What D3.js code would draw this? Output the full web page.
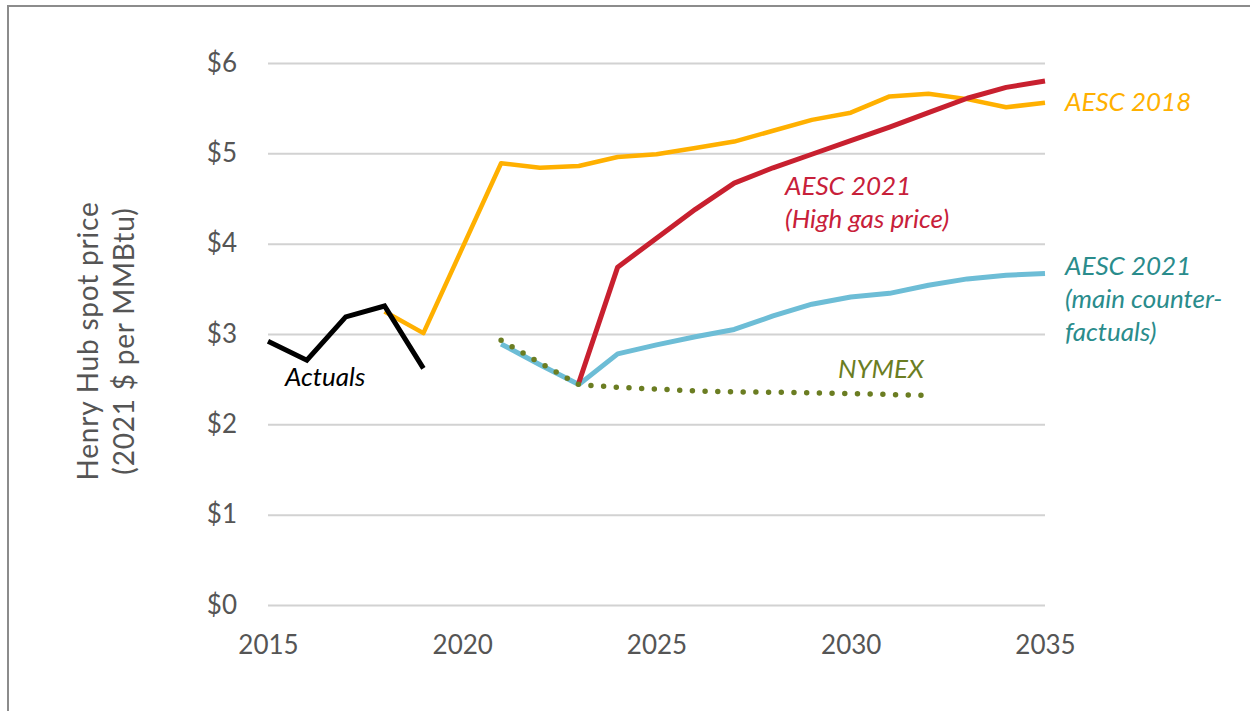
<!DOCTYPE html>
<html>
<head>
<meta charset="utf-8">
<script src="https://cdn.jsdelivr.net/npm/d3@7"></script>
<style>
  body { margin: 0; background: #fff; }
  svg { display: block; font-family: Lato, "Open Sans", sans-serif; }
</style>
</head>
<body>
<svg id="chart"></svg>
<script>
var w = 1250;
var h = 711;

var tickYears = [2015, 2020, 2025, 2030, 2035];
var tickPrices = [0, 1, 2, 3, 4, 5, 6];

var actualYears = [2015, 2016, 2017, 2018, 2019];
var actuals = [2.92, 2.71, 3.19, 3.31, 2.62];

var aesc2018Years = [2018, 2019, 2021, 2022, 2023, 2024, 2025, 2026, 2027, 2028, 2029, 2030, 2031, 2032, 2033, 2034, 2035];
var aesc2018 = [3.25, 3.01, 4.89, 4.84, 4.86, 4.96, 4.99, 5.06, 5.13, 5.25, 5.37, 5.45, 5.63, 5.66, 5.60, 5.51, 5.56];

var highYears = [2023, 2024, 2025, 2026, 2027, 2028, 2029, 2030, 2031, 2032, 2033, 2034, 2035];
var highGas = [2.46, 3.74, 4.06, 4.38, 4.67, 4.84, 4.99, 5.14, 5.29, 5.45, 5.61, 5.73, 5.80];

var mainYears = [2021, 2022, 2023, 2024, 2025, 2026, 2027, 2028, 2029, 2030, 2031, 2032, 2033, 2034, 2035];
var mainCf = [2.89, 2.66, 2.44, 2.78, 2.88, 2.97, 3.05, 3.20, 3.33, 3.41, 3.45, 3.54, 3.61, 3.65, 3.67];

var nymexYears = [2021, 2022, 2023, 2024, 2025, 2026, 2027, 2028, 2029, 2030, 2031, 2032];
var nymex = [2.93, 2.68, 2.44, 2.41, 2.39, 2.37, 2.36, 2.355, 2.35, 2.34, 2.33, 2.32];

var x = d3.scaleLinear().domain([2015, 2035]).range([268, 1045]);
var y = d3.scaleLinear().domain([0, 6]).range([605, 63]);

var svg = d3.select('#chart').attr('width', w).attr('height', h);

// frame
svg.append('line').attr('x1', 8).attr('x2', w).attr('y1', 6).attr('y2', 6)
  .style('stroke', '#8c8c8c').style('stroke-width', 2);
svg.append('line').attr('x1', 8).attr('x2', 8).attr('y1', 5).attr('y2', h)
  .style('stroke', '#8c8c8c').style('stroke-width', 2);

// y axis + gridlines
var yAxis = svg.append('g')
  .attr('transform', 'translate(268,0)')
  .call(d3.axisLeft(y).tickValues(tickPrices).tickFormat(function (d) { return '$' + d; })
    .tickSize(-(1045 - 268)).tickPadding(31));
yAxis.select('.domain').remove();
yAxis.selectAll('line').style('stroke', '#d2d2d2').style('stroke-width', 2);
yAxis.selectAll('text').style('font-size', '26px').style('fill', '#555').style('font-family', 'Lato, sans-serif');

// x axis
var xAxis = svg.append('g')
  .attr('transform', 'translate(0,605)')
  .call(d3.axisBottom(x).tickValues(tickYears).tickFormat(d3.format('d')).tickSize(0).tickPadding(31));
xAxis.select('.domain').remove();
xAxis.selectAll('text').style('font-size', '26px').style('fill', '#555').style('font-family', 'Lato, sans-serif');

// axis title
var title = svg.append('text')
  .attr('transform', 'translate(98,341) rotate(-90)')
  .attr('text-anchor', 'middle')
  .style('font-size', '28px')
  .style('letter-spacing', '0.8px')
  .style('fill', '#555');
title.append('tspan').attr('x', 0).attr('dy', 0).text('Henry Hub spot price');
title.append('tspan').attr('x', 0).attr('dy', 36).text('(2021 $ per MMBtu)');

function lineFor(years) {
  return d3.line()
    .x(function (d, i) { return x(years[i]); })
    .y(function (d) { return y(d); });
}

svg.append('path').datum(aesc2018)
  .attr('d', lineFor(aesc2018Years))
  .style('fill', 'none').style('stroke', '#ffb000').style('stroke-width', 4.5)
  .style('stroke-linejoin', 'round');

svg.append('path').datum(mainCf)
  .attr('d', lineFor(mainYears))
  .style('fill', 'none').style('stroke', '#6dbdd6').style('stroke-width', 5)
  .style('stroke-linejoin', 'round');

svg.append('path').datum(highGas)
  .attr('d', lineFor(highYears))
  .style('fill', 'none').style('stroke', '#c8202f').style('stroke-width', 5)
  .style('stroke-linejoin', 'round');

svg.append('path').datum(nymex)
  .attr('d', lineFor(nymexYears))
  .style('fill', 'none').style('stroke', '#6b7d22').style('stroke-width', 5.5)
  .style('stroke-dasharray', '0 12.7').style('stroke-linecap', 'round');

svg.append('path').datum(actuals)
  .attr('d', lineFor(actualYears))
  .style('fill', 'none').style('stroke', '#000').style('stroke-width', 5)
  .style('stroke-linejoin', 'miter');

// series labels
var labels = [
  {lines: ['AESC 2018'], x: 1065, y: 111, color: '#ffb000'},
  {lines: ['AESC 2021', '(High gas price)'], x: 785, y: 195, color: '#c8203a'},
  {lines: ['AESC 2021', '(main counter-', 'factuals)'], x: 1065, y: 275, color: '#2a8c8c'},
  {lines: ['NYMEX'], x: 838, y: 378, color: '#6b7d22'},
  {lines: ['Actuals'], x: 285, y: 386, color: '#000'}
];

labels.forEach(function (l) {
  var t = svg.append('text')
    .attr('x', l.x).attr('y', l.y)
    .style('font-size', '26px').style('font-style', 'italic')
    .style('fill', l.color);
  l.lines.forEach(function (s, i) {
    t.append('tspan').attr('x', l.x).attr('dy', i === 0 ? 0 : 33).text(s);
  });
});
</script>
</body>
</html>
